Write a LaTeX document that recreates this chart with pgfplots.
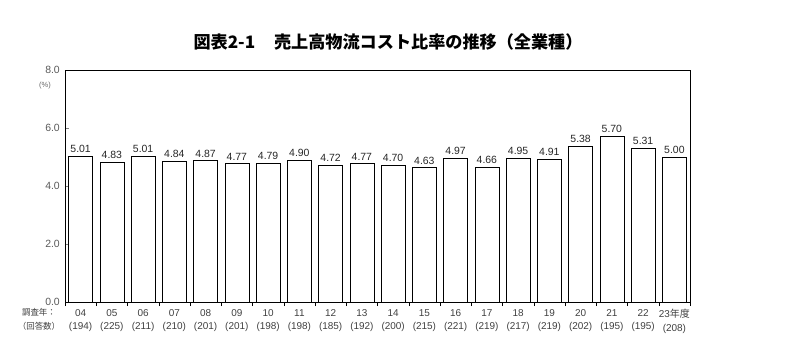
\documentclass[border=0pt]{standalone}
\usepackage{fontspec}
\setmainfont{Liberation Sans}
\newfontfamily\jp{Noto Sans CJK JP}
\usepackage{pgfplots}
\pgfplotsset{compat=1.18}
\begin{document}
\begin{tikzpicture}[x=1bp,y=1bp]
\path[use as bounding box] (-65,-60) rectangle (721,302);
\begin{axis}[
  at={(0,0)}, anchor=south west,
  scale only axis, width=625bp, height=232bp,
  xmin=-0.5, xmax=19.5, ymin=0, ymax=8,
  ytick={0,2,4,6,8},
  yticklabel style={/pgf/number format/fixed,/pgf/number format/fixed zerofill,/pgf/number format/precision=1,font=\fontsize{10.5}{11}\selectfont,text=black!65,anchor=east,inner sep=0pt,xshift=-5bp},
  /pgf/number format/assume math mode=true,
  ytick pos=left, tick align=inside,
  major tick length=4bp, minor tick length=4bp,
  xtick={0,...,19},
  xticklabels={{04\\(194)},{05\\(225)},{06\\(211)},{07\\(210)},{08\\(201)},{09\\(201)},{10\\(198)},{11\\(198)},{12\\(185)},{13\\(192)},{14\\(200)},{15\\(215)},{16\\(221)},{17\\(219)},{18\\(217)},{19\\(219)},{20\\(202)},{21\\(195)},{22\\(195)},{23{\jp 年度}\\(208)}},
  xticklabel style={align=center,font=\fontsize{10}{13.5}\selectfont,text=black!75},
  xtick pos=bottom, major x tick style={draw=none},
  minor xtick={-0.5,0.5,...,19.5},
  minor x tick style={black},
  axis line style={black, line width=0.8pt},
  ybar, bar width=0.77,
  nodes near coords,
  every node near coord/.append style={font=\fontsize{10.5}{11}\selectfont,text=black!85,/pgf/number format/fixed,/pgf/number format/fixed zerofill,/pgf/number format/precision=2,/pgf/number format/assume math mode=true},
  clip=false,
]
\addplot[draw=black, fill=white, line width=0.6pt] coordinates {
(0,5.01) (1,4.83) (2,5.01) (3,4.84) (4,4.87) (5,4.77) (6,4.79) (7,4.90) (8,4.72) (9,4.77)
(10,4.70) (11,4.63) (12,4.97) (13,4.66) (14,4.95) (15,4.91) (16,5.38) (17,5.70) (18,5.31) (19,5.00)};
\end{axis}
\node[font=\fontsize{7.5}{8}\selectfont,text=black!60] at (-20,216) {(\%)};
\node[font=\jp\fontsize{8.5}{9}\selectfont,text=black!75] at (-26,-10) {調査年：};
\node[font=\jp\fontsize{8.5}{9}\selectfont,text=black!75] at (-26,-24) {（回答数）};
\node[font=\jp\fontsize{17.2}{18}\selectfont\bfseries] at (323,260) {図表2-1\hspace{1.1em}売上高物流コスト比率の推移（全業種）};
\end{tikzpicture}
\end{document}
